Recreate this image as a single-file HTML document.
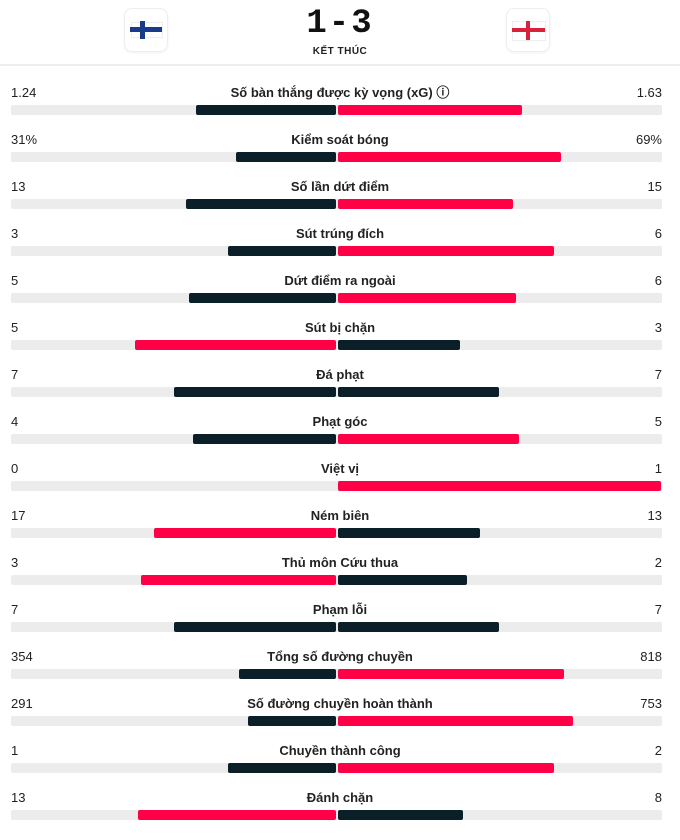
<!DOCTYPE html>
<html><head><meta charset="utf-8"><style>
body{margin:0;width:680px;height:840px;background:#fff;font-family:"Liberation Sans",sans-serif;position:relative;overflow:hidden;color:#111}
.a{position:absolute}
.flag{position:absolute;top:8px;width:42px;height:42px;border:1px solid #eee;border-radius:8px;box-shadow:0 1px 2px rgba(0,0,0,.06)}
.lab{position:absolute;left:0;width:680px;text-align:center;font-size:13px;font-weight:bold;color:#222;line-height:16px}
.v{position:absolute;font-size:13px;color:#222;line-height:16px}
.tr{position:absolute;left:11px;width:651px;height:10px;background:#ececec;border-radius:2px}
.b{position:absolute;height:10px;border-radius:2px}
.d{background:#0b1f29}.r{background:#ff0046}
</style></head><body>
<div class="flag" style="left:124px"><div class="a" style="left:6px;top:13px;width:30px;height:14px;background:#fff;border:1px solid #eee"></div><div class="a" style="left:5px;top:18px;width:32px;height:5px;background:#1a3a8a"></div><div class="a" style="left:15px;top:12px;width:5px;height:18px;background:#1a3a8a"></div></div>
<div class="flag" style="left:506px"><div class="a" style="left:5px;top:12px;width:32px;height:18px;background:#fff;border:1px solid #eee"></div><div class="a" style="left:5px;top:19px;width:33px;height:4px;background:#d9213a"></div><div class="a" style="left:19px;top:12px;width:4px;height:19px;background:#d9213a"></div></div>
<div class="a" style="left:0;width:680px;top:5px;text-align:center;font-family:'Liberation Mono',monospace;font-size:34px;font-weight:bold;color:#111;letter-spacing:2px">1-3</div>
<div class="a" style="left:0;width:680px;top:46px;text-align:center;font-size:10px;font-weight:bold;color:#222;letter-spacing:.5px">KẾT THÚC</div>
<div class="a" style="left:0;top:64px;width:680px;height:2px;background:#eee"></div>
<div id="rows"></div>
<script>
var R=[["1.24","Số bàn thắng được kỳ vọng (xG) ⓘ","1.63",196,522,"d","r"],["31%","Kiểm soát bóng","69%",236,561,"d","r"],["13","Số lần dứt điểm","15",186,513,"d","r"],["3","Sút trúng đích","6",228,554,"d","r"],["5","Dứt điểm ra ngoài","6",189,516,"d","r"],["5","Sút bị chặn","3",135,460,"r","d"],["7","Đá phạt","7",174,499,"d","d"],["4","Phạt góc","5",193,519,"d","r"],["0","Việt vị","1",336,661,"d","r"],["17","Ném biên","13",154,480,"r","d"],["3","Thủ môn Cứu thua","2",141,467,"r","d"],["7","Phạm lỗi","7",174,499,"d","d"],["354","Tổng số đường chuyền","818",239,564,"d","r"],["291","Số đường chuyền hoàn thành","753",248,573,"d","r"],["1","Chuyền thành công","2",228,554,"d","r"],["13","Đánh chặn","8",138,463,"r","d"]];
var h="";R.forEach(function(r,i){var y=85+47*i;
h+='<div class="v" style="left:11px;top:'+y+'px">'+r[0]+'</div><div class="lab" style="top:'+y+'px">'+r[1]+'</div><div class="v" style="right:18px;top:'+y+'px">'+r[2]+'</div>';
h+='<div class="tr" style="top:'+(y+20)+'px"></div>';
if(r[3]<335)h+='<div class="b '+r[5]+'" style="left:'+r[3]+'px;width:'+(336-r[3])+'px;top:'+(y+20)+'px"></div>';
h+='<div class="b '+r[6]+'" style="left:338px;width:'+(r[4]-338)+'px;top:'+(y+20)+'px"></div>';});
document.getElementById("rows").innerHTML=h;
</script>
</body></html>
